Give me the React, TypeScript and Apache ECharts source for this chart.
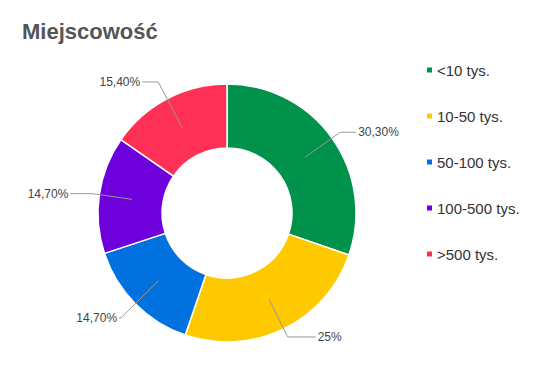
import React, { useEffect, useRef } from "react";
import * as echarts from "echarts";

const categories = ["<10 tys.", "10-50 tys.", "50-100 tys.", "100-500 tys.", ">500 tys."];
const values = [30.3, 25, 14.7, 14.7, 15.4];

// styling (not data)
const colors = ["#00914A", "#FFC900", "#0071DF", "#6E00DC", "#FF3055"];
const lineLen1 = [43, 42, 53, 40, 52];
const lineLen2 = [16, 28, 2, 22, 16];

const fmt = (v: number) =>
  Number.isInteger(v) ? `${v}%` : `${v.toFixed(2).replace(".", ",")}%`;

const FONT = "Liberation Sans, Arial, sans-serif";

export default function App() {
  const ref = useRef<HTMLDivElement>(null);
  useEffect(() => {
    if (!ref.current) return;
    const chart = echarts.init(ref.current, null, { renderer: "svg" });
    const center = [227, 213];
    chart.setOption({
      animation: false,
      backgroundColor: "#ffffff",
      title: {
        text: "Miejscowość",
        left: 22,
        top: 20,
        padding: 0,
        textStyle: {
          fontFamily: FONT,
          fontSize: 22,
          fontWeight: "bold",
          color: "#555555",
        },
      },
      legend: {
        orient: "vertical",
        left: 425,
        top: 62,
        padding: 0,
        itemWidth: 7,
        itemHeight: 7,
        itemGap: 30,
        icon: "rect",
        textStyle: {
          fontFamily: FONT,
          fontSize: 15,
          color: "#333333",
          lineHeight: 16,
          padding: [0, 0, 0, -1],
        },
        data: categories,
      },
      series: [
        {
          type: "pie",
          center,
          radius: [65, 129],
          startAngle: 90,
          clockwise: true,
          avoidLabelOverlap: false,
          label: { show: false },
          labelLine: { show: false },
          itemStyle: { borderColor: "#ffffff", borderWidth: 1.5 },
          emphasis: { disabled: true },
          data: categories.map((c, i) => ({
            name: c,
            value: values[i],
            itemStyle: { color: colors[i] },
          })),
        },
        {
          type: "pie",
          center,
          radius: [0, 96],
          startAngle: 90,
          clockwise: true,
          silent: true,
          avoidLabelOverlap: false,
          z: 3,
          itemStyle: { color: "rgba(0,0,0,0)", borderWidth: 0 },
          emphasis: { disabled: true },
          label: {
            show: true,
            position: "outside",
            distanceToLabelLine: 2,
            fontFamily: FONT,
            fontSize: 12,
            color: "#444444",
            formatter: (p: any) => fmt(p.value),
          },
          labelLine: {
            show: true,
            smooth: false,
            lineStyle: { color: "#999999", width: 1 },
          },
          data: categories.map((c, i) => ({
            name: c,
            value: values[i],
            labelLine: { length: lineLen1[i], length2: lineLen2[i] },
          })),
        },
      ],
    });
    return () => chart.dispose();
  }, []);
  return (
    <div
      ref={ref}
      style={{ position: "fixed", left: 0, top: 0, width: 548, height: 368 }}
    />
  );
}
